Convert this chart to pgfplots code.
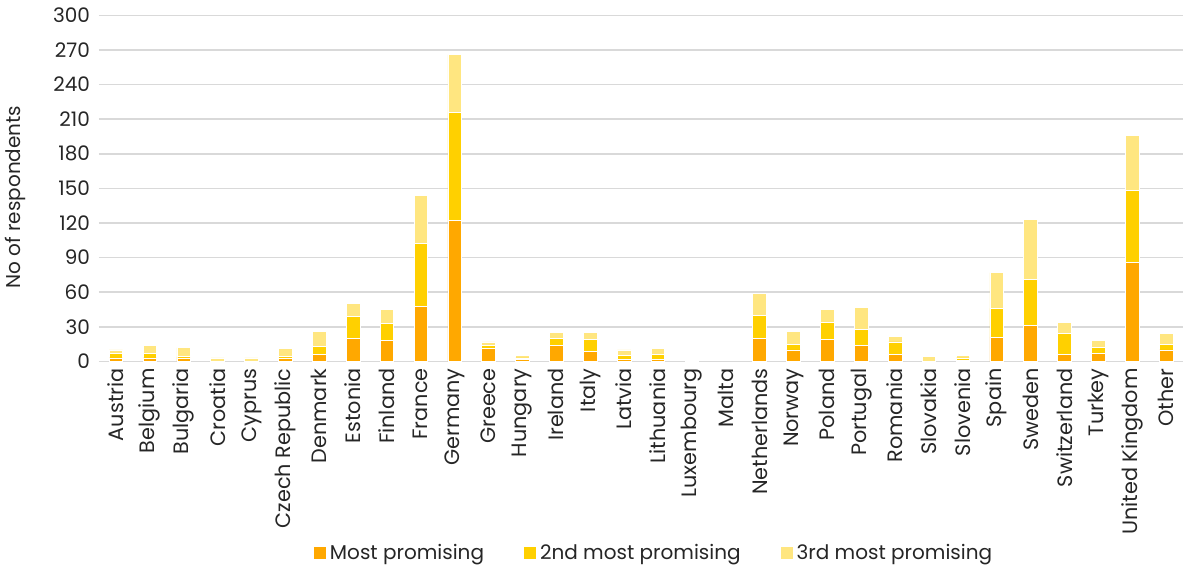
\documentclass[border=0pt]{standalone}
\usepackage{pgfplots}
\usepackage{pgfplotstable}
\pgfplotsset{compat=1.18}
\usepackage{fontspec}
\setmainfont{Poppins}
\definecolor{cMost}{HTML}{FFA800}
\definecolor{cSecond}{HTML}{FFD000}
\definecolor{cThird}{HTML}{FFE680}
\definecolor{gridc}{HTML}{D9D9D9}
\pgfplotstableread{
x a b c
0 3 4 3
1 3 4 7
2 3 1 8
3 0 0 3
4 0 0 3
5 3 1 7
6 6 7 13
7 20 19 11
8 18 15 12
9 48 54 42
10 122 94 50
11 11 3 3
12 2 1 2
13 14 6 5
14 9 10 6
15 2 3 5
16 2 4 5
17 0 0 1
18 0 0 0
19 20 20 19
20 10 5 11
21 19 15 11
22 14 14 19
23 6 11 5
24 0 0 4
25 1 2 2
26 21 25 31
27 31 40 52
28 6 18 10
29 7 5 6
30 86 62 48
31 10 5 9
}\data
\begin{document}
\begin{tikzpicture}
\path[use as bounding box] (-49.5pt,-104.3pt) rectangle (542.5pt,180.7pt);
\begin{axis}[
  scale only axis,
  width=542pt, height=173pt,
  ybar stacked,
  bar width=6.8pt,
  xmin=-0.5, xmax=31.5,
  ymin=0, ymax=300,
  ytick={0,30,...,300},
  xtick={0,...,31},
  xticklabels={Austria,Belgium,Bulgaria,Croatia,Cyprus,Czech Republic,Denmark,Estonia,Finland,France,Germany,Greece,Hungary,Ireland,Italy,Latvia,Lithuania,Luxembourg,Malta,Netherlands,Norway,Poland,Portugal,Romania,Slovakia,Slovenia,Spain,Sweden,Switzerland,Turkey,United Kingdom,Other},
  x tick label style={rotate=90, anchor=east, font=\fontsize{10.4}{12}\selectfont, text=black!85},
  y tick label style={font=\fontsize{10}{12}\selectfont, text=black!85, xshift=-1pt},
  /pgf/number format/assume math mode=true,
  axis line style={draw=none},
  major tick length=0pt,
  ymajorgrids,
  grid style={color=gridc, line width=0.8pt},
  ylabel={No of respondents},
  ylabel style={at={(axis description cs:-0.0775,0.475)}, anchor=center, font=\fontsize{10}{12}\selectfont, text=black!85},
  legend style={at={(axis description cs:0.513,-0.554)}, anchor=center, draw=none, legend columns=3,
    font=\fontsize{10}{12}\selectfont, text=black!85,
    /tikz/every even column/.append style={column sep=18pt}},
  legend image code/.code={\fill[#1, draw=none] (0pt,-3pt) rectangle (6pt,3pt);},
]
\addplot[fill=cMost, draw=white, line width=0.3pt] table[x=x,y=a] {\data};
\addplot[fill=cSecond, draw=white, line width=0.3pt] table[x=x,y=b] {\data};
\addplot[fill=cThird, draw=white, line width=0.3pt] table[x=x,y=c] {\data};
\legend{Most promising, 2nd most promising, 3rd most promising}
\end{axis}
\end{tikzpicture}
\end{document}
